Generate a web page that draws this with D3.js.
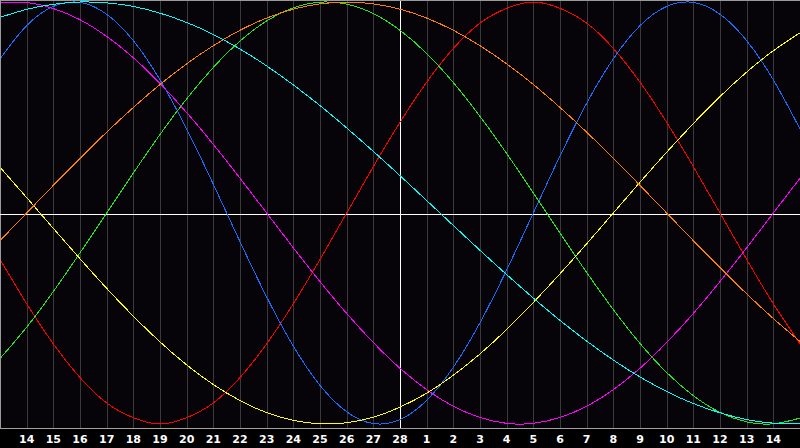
<!DOCTYPE html>
<html>
<head>
<meta charset="utf-8">
<script src="https://cdn.jsdelivr.net/npm/d3@7/dist/d3.min.js"></script>
<style>
  html, body { margin: 0; padding: 0; background: #000; }
  svg { display: block; }
</style>
</head>
<body>
<svg id="chart" width="800" height="448"></svg>
<script>
// Days shown (Feb 13 .. Mar 15), today = Feb 28
const days = ["Feb 13","Feb 14","Feb 15","Feb 16","Feb 17","Feb 18","Feb 19","Feb 20","Feb 21","Feb 22",
  "Feb 23","Feb 24","Feb 25","Feb 26","Feb 27","Feb 28","Mar 1","Mar 2","Mar 3","Mar 4","Mar 5",
  "Mar 6","Mar 7","Mar 8","Mar 9","Mar 10","Mar 11","Mar 12","Mar 13","Mar 14","Mar 15"];
const tickLabels = ["13","14","15","16","17","18","19","20","21","22","23","24","25","26","27","28",
  "1","2","3","4","5","6","7","8","9","10","11","12","13","14","15"];
const today = "Feb 28";

// Cycle values per day (-1 .. 1)
const red = [-0.22,-0.43,-0.62,-0.78,-0.90,-0.97,-1.00,-0.97,-0.90,-0.78,-0.62,-0.43,-0.22,0.00,0.22,0.43,
  0.62,0.78,0.90,0.97,1.00,0.97,0.90,0.78,0.62,0.43,0.22,0.00,-0.22,-0.43,-0.62];
const blue = [0.731,0.888,0.979,0.998,0.942,0.817,0.631,0.398,0.136,-0.136,-0.398,-0.631,-0.817,-0.942,-0.998,
  -0.979,-0.888,-0.731,-0.520,-0.270,0.000,0.270,0.520,0.731,0.888,0.979,0.998,0.942,0.817,0.631,0.398];
const green = [-0.690,-0.541,-0.372,-0.189,0.000,0.189,0.372,0.541,0.690,0.815,0.910,0.972,0.999,0.990,0.945,
  0.866,0.756,0.618,0.458,0.282,0.095,-0.095,-0.282,-0.458,-0.618,-0.756,-0.866,-0.945,-0.990,-0.999,-0.972];
const magenta = [0.997,0.997,0.969,0.916,0.837,0.736,0.614,0.476,0.325,0.165,0.000,-0.165,-0.325,-0.476,-0.614,
  -0.736,-0.837,-0.916,-0.969,-0.997,-0.997,-0.969,-0.916,-0.837,-0.736,-0.614,-0.476,-0.325,-0.165,0.000,0.165];
const yellow = [0.217,0.073,-0.073,-0.217,-0.357,-0.489,-0.611,-0.720,-0.813,-0.889,-0.946,-0.983,-0.999,-0.994,-0.968,
  -0.920,-0.854,-0.769,-0.668,-0.552,-0.424,-0.288,-0.146,0.000,0.146,0.288,0.424,0.552,0.668,0.769,0.854];
const orange = [-0.131,0.000,0.131,0.259,0.383,0.500,0.609,0.707,0.793,0.866,0.924,0.966,0.991,1.000,0.991,
  0.966,0.924,0.866,0.793,0.707,0.609,0.500,0.383,0.259,0.131,0.000,-0.131,-0.259,-0.383,-0.500,-0.609];
const cyan = [0.927,0.965,0.989,1.000,0.996,0.979,0.947,0.903,0.846,0.777,0.697,0.607,0.509,0.403,0.292,
  0.177,0.059,-0.059,-0.177,-0.292,-0.403,-0.509,-0.607,-0.697,-0.777,-0.846,-0.903,-0.947,-0.979,-0.996,-1.000];

const seriesNames = ["red","blue","green","magenta","yellow","orange","cyan"];
const seriesValues = [red, blue, green, magenta, yellow, orange, cyan];
const seriesColors = ["#ff0000","#1a6cff","#22e622","#ff00ff","#ffff00","#ff8000","#00ffff"];

const W = 800, H = 448, plotBottom = 428;
const svg = d3.select("#chart");

const x = d3.scalePoint().domain(days).range([0, W]).padding(0);
const y = d3.scaleLinear().domain([-1, 1]).range([424, 2]);

// background
svg.append("rect").attr("x",0).attr("y",0).attr("width",W).attr("height",H).attr("fill","#000");
svg.append("rect").attr("x",0).attr("y",0).attr("width",W).attr("height",plotBottom).attr("fill","#060408");

// day gridlines
svg.append("g").selectAll("line")
  .data(days.filter((d,i) => i > 0 && i < days.length - 1 && d !== today))
  .join("line")
  .attr("x1", d => Math.round(x(d)) + 0.5).attr("x2", d => Math.round(x(d)) + 0.5)
  .attr("y1", 1).attr("y2", plotBottom)
  .attr("stroke", "#3a3a3a").attr("stroke-width", 1).attr("shape-rendering","crispEdges");

// border
svg.append("line").attr("x1",0).attr("x2",W).attr("y1",0.5).attr("y2",0.5)
  .attr("stroke","#9a9a9a").attr("shape-rendering","crispEdges");
svg.append("line").attr("x1",0.5).attr("x2",0.5).attr("y1",0).attr("y2",plotBottom)
  .attr("stroke","#9a9a9a").attr("shape-rendering","crispEdges");
svg.append("line").attr("x1",0).attr("x2",W).attr("y1",plotBottom + 0.5).attr("y2",plotBottom + 0.5)
  .attr("stroke","#a0a0a0").attr("shape-rendering","crispEdges");

// zero line and today line
svg.append("line").attr("x1",0).attr("x2",W)
  .attr("y1", Math.round(y(0)) + 1.5).attr("y2", Math.round(y(0)) + 1.5)
  .attr("stroke","#ffffff").attr("stroke-width",1).attr("shape-rendering","crispEdges");
svg.append("line")
  .attr("x1", Math.round(x(today)) + 0.5).attr("x2", Math.round(x(today)) + 0.5)
  .attr("y1", 1).attr("y2", plotBottom)
  .attr("stroke","#ffffff").attr("stroke-width",1).attr("shape-rendering","crispEdges");

// curves
const line = d3.line()
  .x((v, i) => x(days[i]))
  .y(v => y(v))
  .curve(d3.curveNatural);

const clip = svg.append("clipPath").attr("id","plotclip")
  .append("rect").attr("x",1).attr("y",1).attr("width",W-1).attr("height",plotBottom-1);

svg.append("g").attr("clip-path","url(#plotclip)")
  .selectAll("path")
  .data(seriesValues)
  .join("path")
  .attr("d", d => line(d))
  .attr("fill","none")
  .attr("stroke", (d,i) => seriesColors[i])
  .attr("stroke-width", 1)
  .attr("shape-rendering","crispEdges");

// x tick labels
svg.append("g").selectAll("text")
  .data(days.map((d,i) => ({d, label: tickLabels[i]})).filter((o,i) => i > 0 && i < days.length - 1))
  .join("text")
  .attr("x", o => x(o.d))
  .attr("y", 443)
  .attr("text-anchor","middle")
  .attr("fill","#ffffff")
  .attr("font-family","'DejaVu Sans', sans-serif")
  .attr("font-weight","bold")
  .attr("font-size","11px")
  .text(o => o.label);
</script>
</body>
</html>
